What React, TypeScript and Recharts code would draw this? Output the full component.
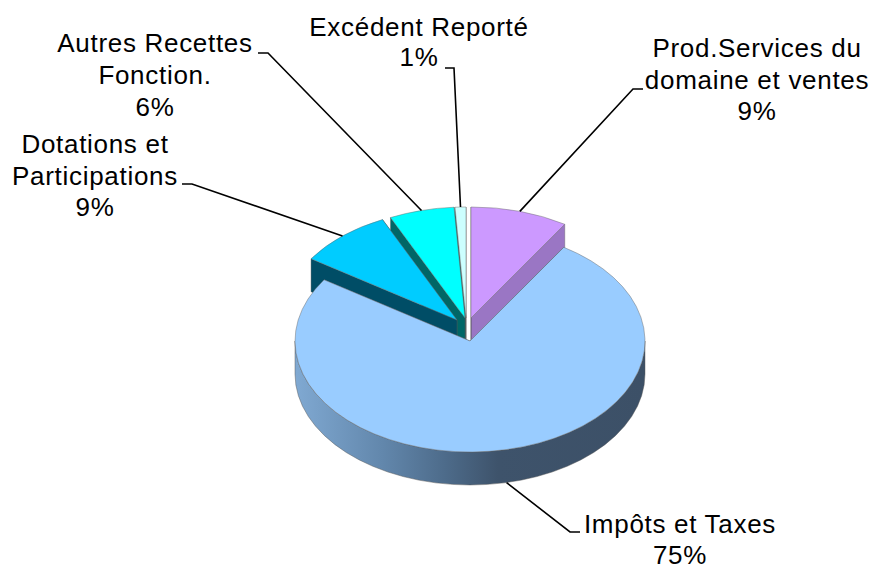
import { PieChart, Pie } from 'recharts';

// Slices in drawing order, back to front (the big slice has to sit on top of the others' walls)
const categories = [
  'Prod.Services du\ndomaine et ventes',
  'Excédent Reporté',
  'Autres Recettes\nFonction.',
  'Dotations et\nParticipations',
  'Impôts et Taxes',
];
const values = [9, 1, 6, 8.7, 75.3];

const topColors = ['#CC99FF', '#CCFFFF', '#00FFFF', '#00CCFF', '#99CCFF'];
const wallColors = ['#9A76C4', '#4A6666', '#006666', '#004D66', 'url(#mainWall)'];

// Each slice is pulled out a bit from the centre of the big one
const sliceShift = [
  { x: 1, y: -23 },
  { x: -4, y: -23 },
  { x: -5, y: -23 },
  { x: -13, y: -21 },
  { x: 0, y: 0 },
];

// Where each label goes: centre x, first baseline, line step, elbow of the leader line
const labelPlace = [
  { x: 757, y: 57, step: 31.5, elbow: [[643, 89], [633, 89]] },
  { x: 419, y: 36, step: 30, elbow: [[445, 68], [454, 68]] },
  { x: 155, y: 52, step: 32, elbow: [[258, 53], [268, 53]] },
  { x: 95, y: 153, step: 31.5, elbow: [[182, 184], [192, 184]] },
  { x: 680, y: 533, step: 31, elbow: [[580, 532], [570, 532]] },
];

const DEPTH = 33;
const SQUASH = 111 / 175;
const RAD = Math.PI / 180;

const tableData = categories.map((name, i) => ({ name, value: values[i], slot: i }));

const onRim = (cx: number, cy: number, r: number, deg: number) => [
  cx + r * Math.cos(deg * RAD),
  cy - r * SQUASH * Math.sin(deg * RAD),
];

// Recharts hands over the angles, we only flatten the sector into an ellipse and give it a wall
const Slice3D = (props: any) => {
  const { cx, cy, outerRadius: r, startAngle, endAngle, slot } = props;
  const a1 = Math.min(startAngle, endAngle);
  const a2 = Math.max(startAngle, endAngle);
  const ox = cx + sliceShift[slot].x;
  const oy = cy + sliceShift[slot].y;
  const ry = r * SQUASH;
  const [x1, y1] = onRim(ox, oy, r, a1);
  const [x2, y2] = onRim(ox, oy, r, a2);
  const large = a2 - a1 > 180 ? 1 : 0;
  const top = `M${ox},${oy} L${x1},${y1} A${r},${ry} 0 ${large} 0 ${x2},${y2} Z`;
  const wallA = `M${ox},${oy} L${x1},${y1} L${x1},${y1 + DEPTH} L${ox},${oy + DEPTH} Z`;
  const wallB = `M${ox},${oy} L${x2},${y2} L${x2},${y2 + DEPTH} L${ox},${oy + DEPTH} Z`;

  // front part of the rim, only the slice that crosses the lower half has one
  const hasRim = a1 < 180 && a2 > 360;
  const [lx, ly] = onRim(ox, oy, r, 180);
  const [rx2, ry2] = onRim(ox, oy, r, 360);
  const rim = `M${lx},${ly} A${r},${ry} 0 0 0 ${rx2},${ry2} L${rx2},${ry2 + DEPTH} A${r},${ry} 0 0 1 ${lx},${ly + DEPTH} Z`;

  return (
    <g>
      <path d={wallA} fill={wallColors[slot]} stroke="#555" strokeOpacity={0.5} strokeWidth={0.75} />
      <path d={wallB} fill={wallColors[slot]} stroke="#555" strokeOpacity={0.5} strokeWidth={0.75} />
      {hasRim && <path d={rim} fill={wallColors[slot]} stroke="#555" strokeOpacity={0.6} strokeWidth={0.75} />}
      <path d={top} fill={topColors[slot]} stroke="#666" strokeOpacity={0.6} strokeWidth={0.75} />
    </g>
  );
};

const SliceLabel = (props: any) => {
  const { cx, cy, outerRadius: r, midAngle, slot, name, value } = props;
  const place = labelPlace[slot];
  const lines = [...name.split('\n'), `${Math.round(value)}%`];
  const [ax, ay] = onRim(cx + sliceShift[slot].x, cy + sliceShift[slot].y, r, midAngle);
  // the leader of the front slice lands on the bottom of the wall
  const anchorY = midAngle > 180 && midAngle < 360 ? ay + DEPTH : ay;
  const pts = [...place.elbow, [ax, anchorY]].map((p) => p.join(',')).join(' ');
  return (
    <g>
      <polyline points={pts} fill="none" stroke="#000" strokeWidth={1.6} />
      {lines.map((line: string, i: number) => (
        <text
          key={i}
          x={place.x}
          y={place.y + i * place.step}
          textAnchor="middle"
          fontFamily="'Liberation Sans', Arial, sans-serif"
          fontSize={26}
          letterSpacing={0.7}
          fill="#000"
        >
          {line}
        </text>
      ))}
    </g>
  );
};

export default function App() {
  return (
    <div style={{ position: 'absolute', left: 0, top: 0, background: '#fff' }}>
      <PieChart width={873} height={565} margin={{ top: 0, right: 0, bottom: 0, left: 0 }}>
        <defs>
          <linearGradient id="mainWall" x1="0" y1="0" x2="1" y2="0">
            <stop offset="0" stopColor="#80A9D2" />
            <stop offset="0.25" stopColor="#6287AC" />
            <stop offset="0.43" stopColor="#4D6B8A" />
            <stop offset="0.58" stopColor="#3E536B" />
            <stop offset="1" stopColor="#3C5067" />
          </linearGradient>
        </defs>
        <Pie
          data={tableData}
          dataKey="value"
          nameKey="name"
          cx={470}
          cy={341}
          innerRadius={0}
          outerRadius={175}
          startAngle={57.6}
          endAngle={417.6}
          shape={Slice3D}
          inactiveShape={Slice3D}
          label={SliceLabel}
          labelLine={false}
          isAnimationActive={false}
        />
      </PieChart>
    </div>
  );
}
